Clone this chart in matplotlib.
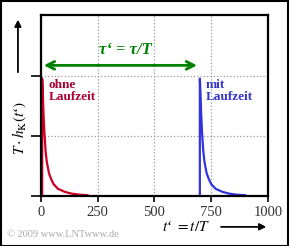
import matplotlib.pyplot as plt
from matplotlib.patches import Rectangle

plt.rcParams['mathtext.fontset'] = 'stix'
serif = ['Liberation Serif', 'DejaVu Serif']

# Impulsantwort ohne Laufzeit (rot) und mit Laufzeit tau' = 700 (blau)
t_ohne = [5, 5, 8, 11, 15, 20, 25, 35, 45, 55, 75, 105, 135, 170, 205]
h_ohne = [0.0, 0.98, 0.85, 0.68, 0.52, 0.38, 0.29, 0.19, 0.14, 0.10, 0.06, 0.035, 0.02, 0.012, 0.007]

t_mit = [700, 700, 703, 706, 710, 715, 720, 730, 740, 750, 770, 800, 830, 860, 900]
h_mit = [0.0, 0.98, 0.85, 0.68, 0.52, 0.38, 0.29, 0.19, 0.14, 0.10, 0.06, 0.035, 0.02, 0.012, 0.007]

tau = 700
x_ticks = [0, 250, 500, 750, 1000]
y_ticks = [0, 0.5, 1.0]

fig = plt.figure(figsize=(2.89, 2.46), dpi=100)
ax = fig.add_axes([0.142, 0.203, 0.785, 0.736])

ax.plot(t_ohne, h_ohne, color='#cc0022', lw=1.6)
ax.plot(t_mit, h_mit, color='#3333dd', lw=1.6)

ax.set_xlim(0, 1000)
ax.set_ylim(0, 1.51)
ax.set_xticks(x_ticks)
ax.set_xticklabels([str(v) for v in x_ticks], family=serif, fontsize=10.5, color='#333333')
ax.set_yticks(y_ticks)
ax.set_yticklabels([])
ax.tick_params(axis='x', direction='out', length=4, width=1.2, pad=3)
ax.tick_params(axis='y', direction='out', length=7, width=1.2)
ax.grid(color='#999999', linestyle=':', linewidth=0.9)
for s in ax.spines.values():
    s.set_linewidth(1.6)

# Laufzeit-Pfeil
ax.annotate('', xy=(tau, 1.09), xytext=(0, 1.09),
            arrowprops=dict(arrowstyle='<->', color='#008000', lw=2, mutation_scale=14))
ax.text(370, 1.22, "τ‘ = τ/T", color='#008000', family=serif, fontsize=12,
        fontweight='bold', fontstyle='italic', ha='center', va='center')

ax.text(35, 0.98, "ohne\nLaufzeit", color='#aa0033', family=serif, fontsize=9.5,
        fontweight='bold', va='top', ha='left', linespacing=1.0)
ax.text(727, 0.98, "mit\nLaufzeit", color='#3333cc', family=serif, fontsize=9.5,
        fontweight='bold', va='top', ha='left', linespacing=1.0)

# Achsenbeschriftungen mit Pfeilen
fig.text(0.07, 0.48, r"$T\cdot h_{\rm K}(t$‘$)$", rotation=90, fontsize=11,
         family=serif, ha='center', va='center')
fig.add_artist(plt.annotate('', xy=(0.062, 0.93), xytext=(0.062, 0.695),
                            xycoords='figure fraction',
                            arrowprops=dict(arrowstyle='-|>', color='black', lw=1,
                                            mutation_scale=10)))
fig.text(0.645, 0.078, r"$t$‘ $= t/T$", fontsize=11, family=serif,
         ha='center', va='center')
fig.add_artist(plt.annotate('', xy=(0.93, 0.078), xytext=(0.755, 0.078),
                            xycoords='figure fraction',
                            arrowprops=dict(arrowstyle='-|>', color='black', lw=1,
                                            mutation_scale=10)))

fig.text(0.025, 0.045, "© 2009 www.LNTwww.de", color='#aaaaaa', family=serif,
         fontsize=7.5, ha='left', va='center')

fig.patches.append(Rectangle((0.002, 0.002), 0.994, 0.994, transform=fig.transFigure,
                             fill=False, edgecolor='black', lw=1.5))

fig.savefig('out.png', dpi=100)
